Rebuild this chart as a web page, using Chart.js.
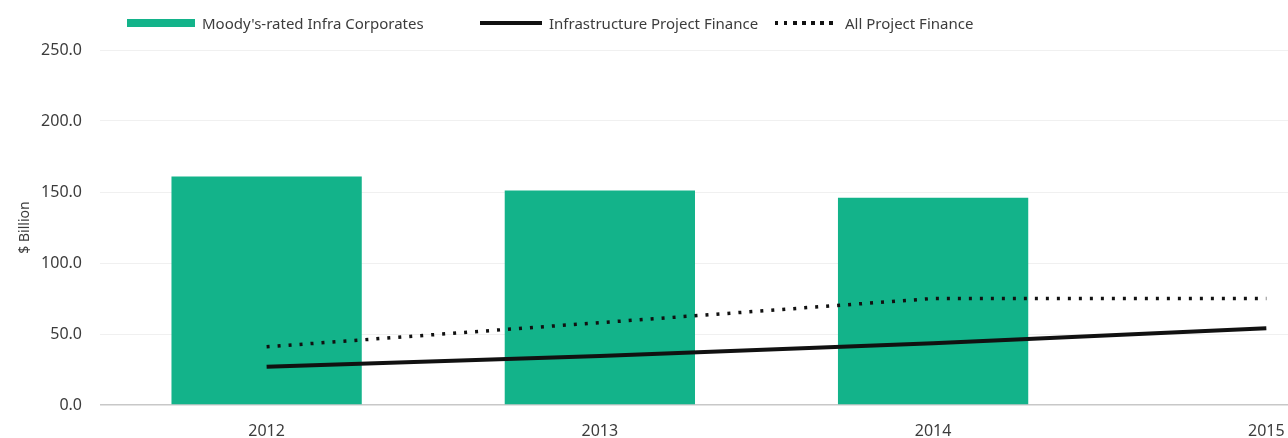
<!DOCTYPE html>
<html>
<head>
<meta charset="utf-8">
<script src="https://cdn.jsdelivr.net/npm/chart.js@4/dist/chart.umd.min.js"></script>
<style>
  html, body { margin: 0; padding: 0; background: #fff; }
  #wrap { position: relative; width: 1288px; height: 438px; overflow: hidden; }
  #legend { position: absolute; top: 12px; left: 0; width: 1288px; height: 22px;
    font-family: "Noto Sans", sans-serif; font-size: 15px; color: #3c3c3c; }
  .item { position: absolute; top: 0; display: flex; align-items: center; height: 22px; white-space: nowrap; }
  .sw { margin-right: 7px; }
</style>
</head>
<body>
<div id="wrap">
  <canvas id="chart" width="1288" height="438"></canvas>
  <div id="legend"></div>
</div>
<script>
const years = [2012, 2013, 2014, 2015]
const corporates = [161, 151, 146]          // no 2015 bar
const infraProjectFinance = [27, 34.5, 43.5, 54]
const allProjectFinance = [41, 58, 75, 75]
const yTicks = [0, 50, 100, 150, 200, 250]

const green = '#13b38a'

function points(values) {
  return values.map((v, i) => ({ x: years[i], y: v }))
}

const datasets = [
  {
    type: 'bar',
    label: "Moody's-rated Infra Corporates",
    data: points(corporates),
    backgroundColor: green,
    borderWidth: 0,
    categoryPercentage: 1,
    barPercentage: 0.571,
    order: 3
  },
  {
    type: 'line',
    label: 'Infrastructure Project Finance',
    data: points(infraProjectFinance),
    borderColor: '#111',
    borderWidth: 4,
    pointRadius: 0,
    tension: 0,
    order: 1
  },
  {
    type: 'line',
    label: 'All Project Finance',
    data: points(allProjectFinance),
    borderColor: '#111',
    borderWidth: 3.5,
    borderDash: [3, 8],
    pointRadius: 0,
    tension: 0,
    order: 2
  }
]

// html legend, laid out like the original
const legend = document.getElementById('legend')
const legendLeft = [127, 480, 775]
const swatches = [
  'width:68px;height:8px;background:' + green,
  'width:62px;height:4px;background:#111',
  'width:63px;height:3.5px;background:repeating-linear-gradient(to right,#111 0 3.5px,transparent 3.5px 9px)'
]
datasets.forEach((ds, i) => {
  const item = document.createElement('div')
  item.className = 'item'
  item.style.left = legendLeft[i] + 'px'
  const sw = document.createElement('span')
  sw.className = 'sw'
  sw.style.cssText = swatches[i]
  const txt = document.createElement('span')
  txt.textContent = ds.label
  item.appendChild(sw)
  item.appendChild(txt)
  legend.appendChild(item)
})

new Chart(document.getElementById('chart'), {
  type: 'bar',
  data: { datasets: datasets },
  options: {
    responsive: false,
    animation: false,
    layout: { padding: { top: 50, left: 0, right: 0, bottom: 0 } },
    plugins: {
      legend: { display: false },
      tooltip: { enabled: false }
    },
    scales: {
      x: {
        type: 'linear',
        min: 2011.5,
        max: 2015.065,
        offset: false,
        afterBuildTicks: (scale) => { scale.ticks = years.map(v => ({ value: v })) },
        afterFit: (scale) => {
          scale.height = 33
          scale.paddingLeft = 0
          scale.paddingRight = 0
        },
        grid: { display: false, drawTicks: false },
        border: { display: false },
        ticks: {
          padding: 17,
          color: '#3c3c3c',
          font: { family: 'Noto Sans', size: 16 },
          maxRotation: 0,
          callback: (v) => String(v)
        }
      },
      y: {
        min: 0,
        max: 250,
        afterBuildTicks: (scale) => { scale.ticks = yTicks.map(v => ({ value: v })) },
        afterFit: (scale) => {
          scale.width = 100
          scale.paddingTop = 0
        },
        border: { display: false },
        grid: {
          drawTicks: false,
          color: (ctx) => ctx.tick && ctx.tick.value === 0 ? '#c8c8c8' : '#f0f0f0',
          lineWidth: (ctx) => ctx.tick && ctx.tick.value === 0 ? 1.5 : 1
        },
        ticks: {
          padding: 18,
          color: '#3c3c3c',
          font: { family: 'Noto Sans', size: 16 },
          callback: (v) => v.toFixed(1)
        },
        title: {
          display: true,
          text: '$ Billion',
          color: '#3c3c3c',
          font: { family: 'Noto Sans', size: 14 },
          padding: { top: 17, bottom: 0 }
        }
      }
    }
  }
})
</script>
</body>
</html>
